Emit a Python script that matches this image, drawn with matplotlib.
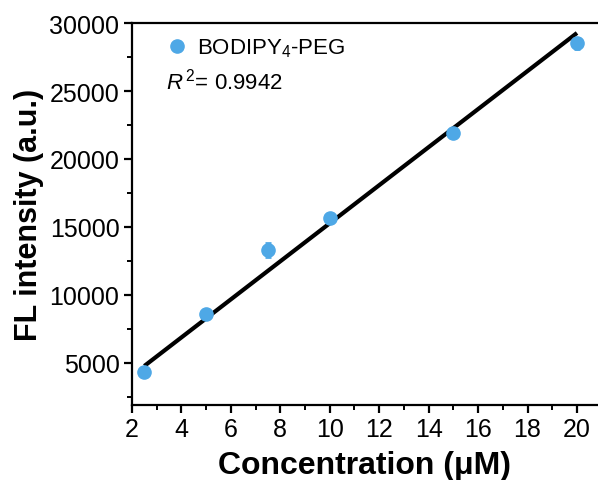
import matplotlib
matplotlib.use("Agg")
import matplotlib.pyplot as plt
import numpy as np
from matplotlib.lines import Line2D

plt.rcParams['font.family'] = ['Liberation Sans', 'DejaVu Sans']
plt.rcParams['mathtext.fontset'] = 'custom'
plt.rcParams['mathtext.rm'] = 'Liberation Sans'
plt.rcParams['mathtext.it'] = 'Liberation Sans:italic'

conc = [2.5, 5, 7.5, 10, 15, 20]
intensity = [4300, 8600, 13300, 15650, 21900, 28500]
err = [150, 200, 500, 200, 150, 400]
fit_slope = 1400
fit_intercept = 1270
fit_range = [2.5, 20]
r2_text = "0.9942"
series_label = "BODIPY$_4$-PEG"

fig = plt.figure(figsize=(5.98, 4.81), dpi=100)
ax = fig.add_axes([0.2207, 0.156, 0.7793, 0.794])

color = '#4ea8e6'
ax.errorbar(conc, intensity, yerr=err, fmt='o', color=color, ms=9.5,
            elinewidth=2.5, capsize=2, capthick=2, ecolor=color, zorder=3)
xf = np.array(fit_range)
ax.plot(xf, fit_slope * xf + fit_intercept, color='black', lw=3, zorder=2,
        solid_capstyle='butt')

ax.set_xlim(2, 20.85)
ax.set_ylim(1900, 30000)
ax.set_xticks(np.arange(2, 21, 2))
ax.set_xticks(np.arange(2, 21, 1), minor=True)
ax.set_yticks(np.arange(5000, 30001, 5000))
ax.set_yticks(np.arange(2500, 30001, 2500), minor=True)

for s in ['left', 'bottom', 'top']:
    ax.spines[s].set_linewidth(1.6)
ax.spines['right'].set_visible(False)
ax.tick_params(which='major', direction='out', length=6, width=1.6, labelsize=18, pad=3)
ax.tick_params(which='minor', direction='out', length=3.5, width=1.4)
ax.tick_params(top=False, right=False)

ax.set_xlabel('Concentration (μM)', fontsize=23, fontweight='bold', labelpad=6)
ax.set_ylabel('FL intensity (a.u.)', fontsize=22, fontweight='bold', labelpad=4)

handle = Line2D([], [], marker='o', ls='none', color=color, ms=9.5)
ax.legend([handle], [series_label], loc='upper left', bbox_to_anchor=(0.045, 1.0),
          frameon=False, fontsize=16, handletextpad=0.4, borderaxespad=0.3,
          handlelength=1.0, borderpad=0.3)
ax.text(0.072, 0.85, r'$R^{\,2}$= ' + r2_text, transform=ax.transAxes,
        fontsize=16, ha='left', va='center')

fig.savefig('out.png', dpi=100)
